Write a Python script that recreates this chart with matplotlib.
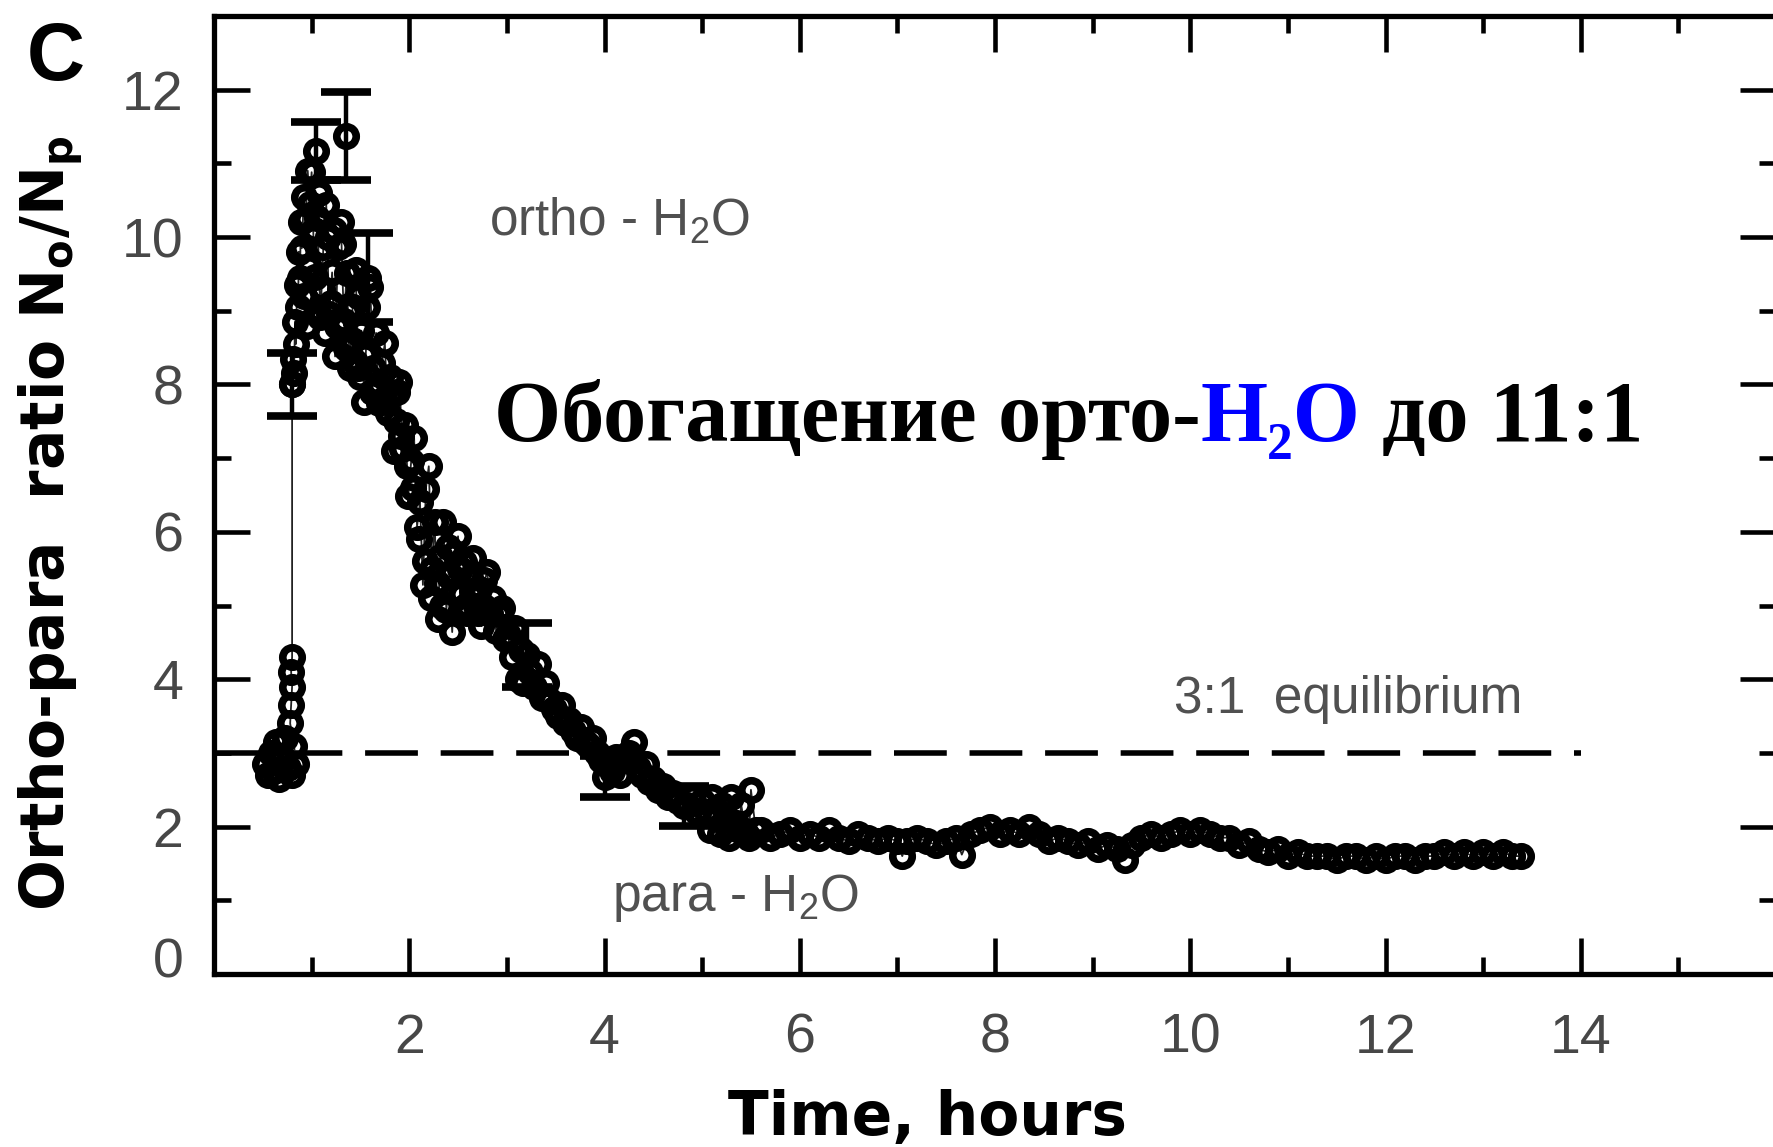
import matplotlib
matplotlib.use("Agg")
import matplotlib.pyplot as plt
from matplotlib import font_manager
from matplotlib.ticker import FixedLocator
from matplotlib.transforms import ScaledTranslation

# ---------------- data ----------------
t_rise = [0.52, 0.55, 0.58, 0.61, 0.64, 0.67, 0.70, 0.73, 0.76, 0.80, 0.84, 0.82,
          0.78, 0.79, 0.80, 0.79, 0.80]
r_rise = [2.85, 2.70, 3.00, 2.75, 3.15, 2.65, 2.95, 3.20, 2.80, 2.70, 2.85, 3.10,
          3.40, 3.65, 3.90, 4.10, 4.30]

t_jump = [0.80, 0.81, 0.82, 0.83, 0.84, 0.85, 0.86, 0.87, 0.88, 0.89, 0.90, 0.92,
          0.94, 0.96, 0.98]
r_jump = [8.00, 8.35, 8.15, 8.85, 8.55, 9.35, 9.05, 9.80, 9.45, 10.20, 9.85, 10.55,
          10.25, 10.90, 10.45]

t_decay = [1.00, 1.03, 1.06, 1.09, 1.12, 1.15, 1.18, 1.21, 1.24, 1.27,
           1.30, 1.33, 1.36, 1.39, 1.42, 1.45, 1.48, 1.51, 1.54, 1.57,
           1.60, 1.63, 1.66, 1.69, 1.72, 1.75, 1.78, 1.81, 1.84, 1.87,
           1.90, 1.93, 1.96, 1.99, 2.02, 2.05, 2.08, 2.11, 2.14, 2.17,
           2.20, 2.23, 2.26, 2.29, 2.32, 2.35, 2.38, 2.41, 2.44, 2.47,
           2.50, 2.53, 2.56, 2.59, 2.62, 2.65, 2.68, 2.71, 2.74, 2.77,
           2.80, 2.83, 2.86, 2.89, 2.92, 2.95, 2.98]
r_decay = [10.88, 9.46, 10.26, 8.91, 9.86, 10.43, 8.96, 9.52, 8.38, 9.87,
           10.20, 8.86, 9.51, 8.22, 9.05, 9.56, 8.22, 8.73, 7.76, 9.05,
           9.32, 8.23, 8.70, 7.75, 8.29, 8.56, 7.61, 7.86, 7.10, 7.90,
           8.04, 7.12, 7.45, 6.49, 6.96, 7.27, 6.07, 6.40, 5.28, 6.58,
           6.89, 5.49, 6.14, 4.82, 5.66, 6.13, 4.94, 5.40, 4.64, 5.71,
           5.94, 5.16, 5.59, 4.90, 5.38, 5.65, 4.99, 5.23, 4.72, 5.34,
           5.46, 4.88, 5.10, 4.66, 4.88, 4.97, 4.54]

# extra overlapping measurements inside the dense band
t_band = [0.92, 0.95, 0.97, 1.02, 1.05, 1.08, 1.11, 1.14, 1.17, 1.20,
          1.23, 1.26, 1.29, 1.32, 1.35, 1.38, 1.41, 1.44, 1.47, 1.50,
          1.55, 1.62, 1.68, 1.74, 1.80, 1.86, 1.92, 1.98, 2.04, 2.10,
          2.16, 2.22, 2.28, 2.34, 2.40, 2.46, 2.52, 2.58, 2.64, 2.70,
          2.76]
r_band = [9.20, 8.80, 9.60, 10.10, 9.00, 10.60, 9.30, 8.70, 10.00, 9.10,
          10.10, 8.80, 9.30, 9.90, 8.50, 9.00, 8.60, 8.30, 9.20, 8.10,
          8.40, 7.90, 8.00, 7.80, 8.10, 7.50, 7.30, 6.90, 6.60, 5.90,
          5.60, 5.10, 5.30, 5.00, 5.80, 5.20, 5.50, 5.00, 5.20, 4.90,
          5.00]

t_slope = [3.01, 3.05, 3.08, 3.11, 3.14, 3.17, 3.24, 3.28, 3.32, 3.36,
           3.40, 3.44, 3.48, 3.52, 3.56, 3.60, 3.64, 3.68, 3.72, 3.76,
           3.80, 3.84, 3.88, 3.92, 3.96, 4.04, 4.08, 4.12, 4.16, 4.20,
           4.25, 4.30, 4.34, 4.38, 4.42, 4.46, 4.50, 4.55, 4.60, 4.65,
           4.70, 4.75, 4.85, 4.90, 4.95, 5.00, 5.05, 5.08, 5.10, 5.15,
           5.18, 5.20, 5.25, 5.28, 5.30, 5.35, 5.38, 5.40, 5.45, 5.48,
           5.50, 5.55]
r_slope = [4.60, 4.30, 4.70, 4.00, 4.40, 3.95, 4.10, 3.90, 4.20, 3.75,
           3.95, 3.70, 3.60, 3.50, 3.65, 3.40, 3.45, 3.30, 3.20, 3.35,
           3.15, 3.10, 3.20, 3.00, 2.90, 2.85, 2.75, 2.95, 2.70, 2.90,
           3.00, 3.15, 2.80, 2.70, 2.85, 2.60, 2.65, 2.50, 2.55, 2.40,
           2.45, 2.35, 2.30, 2.40, 2.20, 2.35, 2.20, 1.95, 2.40, 2.15,
           1.90, 2.30, 2.00, 1.85, 2.40, 2.05, 1.95, 2.30, 1.90, 1.85,
           2.50, 1.95]

t_tail = [5.60, 5.70, 5.80, 5.90, 6.00, 6.10, 6.20, 6.30, 6.40, 6.50,
          6.60, 6.70, 6.80, 6.90, 7.00, 7.05, 7.10, 7.20, 7.30, 7.40,
          7.50, 7.60, 7.66, 7.75, 7.85, 7.95, 8.05, 8.15, 8.25, 8.35,
          8.45, 8.55, 8.65, 8.75, 8.85, 8.95, 9.05, 9.15, 9.25, 9.33,
          9.40, 9.50, 9.60, 9.70, 9.80, 9.90, 10.00, 10.10, 10.20, 10.30,
          10.40, 10.50, 10.60, 10.70, 10.80, 10.90, 11.00, 11.10, 11.20, 11.30,
          11.40, 11.50, 11.60, 11.70, 11.80, 11.90, 12.00, 12.10, 12.20, 12.30,
          12.40, 12.50, 12.60, 12.70, 12.80, 12.90, 13.00, 13.10, 13.20, 13.30,
          13.39]
r_tail = [1.95, 1.85, 1.90, 1.95, 1.85, 1.90, 1.85, 1.95, 1.85, 1.80,
          1.90, 1.85, 1.80, 1.85, 1.80, 1.60, 1.80, 1.85, 1.80, 1.75,
          1.80, 1.85, 1.62, 1.90, 1.95, 2.00, 1.90, 1.95, 1.90, 2.00,
          1.90, 1.80, 1.85, 1.80, 1.75, 1.80, 1.70, 1.75, 1.70, 1.55,
          1.75, 1.85, 1.90, 1.85, 1.90, 1.95, 1.90, 1.95, 1.90, 1.85,
          1.85, 1.75, 1.80, 1.70, 1.65, 1.70, 1.60, 1.65, 1.60, 1.60,
          1.60, 1.55, 1.60, 1.60, 1.55, 1.60, 1.55, 1.60, 1.60, 1.55,
          1.60, 1.60, 1.65, 1.60, 1.65, 1.60, 1.65, 1.60, 1.65, 1.60,
          1.60]

err_t = [0.80, 1.04, 1.35, 1.58, 3.21, 4.01, 4.81]
err_r = [8.00, 11.17, 11.37, 9.45, 4.33, 2.68, 2.28]
err_e = [0.43, 0.39, 0.60, 0.60, 0.43, 0.28, 0.27]

equilibrium_ratio = 3.0
equilibrium_span = [0, 14]

x_major = [2, 4, 6, 8, 10, 12, 14]
x_minor = [1, 3, 5, 7, 9, 11, 13, 15]
y_major = [0, 2, 4, 6, 8, 10, 12]
y_minor = [1, 3, 5, 7, 9, 11]

time_h = t_rise + t_jump + t_decay + t_slope + t_tail
ratio = r_rise + r_jump + r_decay + r_slope + r_tail

# ---------------- fonts ----------------
names = {f.name for f in font_manager.fontManager.ttflist}
sans = ['Liberation Sans Narrow', 'Liberation Sans', 'DejaVu Sans'] \
    if 'Liberation Sans Narrow' in names else ['Liberation Sans', 'DejaVu Sans']
plt.rcParams['font.family'] = ['Liberation Sans', 'DejaVu Sans']
plt.rcParams['mathtext.fontset'] = 'custom'
plt.rcParams['mathtext.rm'] = 'Liberation Sans'
plt.rcParams['mathtext.it'] = 'Liberation Sans:italic'
plt.rcParams['mathtext.bf'] = 'DejaVu Sans:bold'

W, H, DPI = 1773, 1147, 100
fig = plt.figure(figsize=(W / DPI, H / DPI), dpi=DPI)
fig.patch.set_facecolor('white')

ax_l, ax_r, ax_t, ax_b = 214, 1776, 16, 974
ax = fig.add_axes([ax_l / W, 1 - ax_b / H, (ax_r - ax_l) / W, (ax_b - ax_t) / H])
ax.set_xlim(0, 16)
ax.set_ylim(0, 13)

# reference line
ax.plot(equilibrium_span, [equilibrium_ratio] * 2, color='black', lw=4,
        linestyle=(0, (9.5, 4.1)), zorder=1, solid_capstyle='butt',
        dash_capstyle='butt')

# data
MS, MEW = 14, 5.5
ax.plot(time_h, ratio, '-', color='#222222', lw=1.3, zorder=2)
ax.plot(time_h, ratio, 'o', ms=MS, mfc='none', mec='black', mew=MEW, zorder=3)
ax.plot(t_band, r_band, 'o', ms=MS, mfc='none', mec='black', mew=MEW, zorder=3)
ax.errorbar(err_t, err_r, yerr=err_e, fmt='o', ms=MS, mfc='none', mec='black',
            mew=MEW, ecolor='black', elinewidth=3.2, capsize=18, capthick=3.2,
            zorder=4)

# spines & ticks
for s in ['left', 'top', 'bottom']:
    ax.spines[s].set_linewidth(3.8)
    ax.spines[s].set_color('black')
ax.spines['right'].set_visible(False)

ax.xaxis.set_major_locator(FixedLocator(x_major))
ax.xaxis.set_minor_locator(FixedLocator(x_minor))
ax.yaxis.set_major_locator(FixedLocator(y_major))
ax.yaxis.set_minor_locator(FixedLocator(y_minor))
ax.set_xticklabels([str(v) for v in x_major])
ax.set_yticklabels([str(v) for v in y_major])

ax.tick_params(which='major', direction='in', length=26, width=3.3, color='black',
               top=True, right=True, labelsize=40, labelcolor='#474747')
ax.tick_params(which='minor', direction='in', length=12.5, width=3.3,
               color='black', top=True, right=True)
ax.tick_params(axis='x', which='major', pad=28)
ax.tick_params(axis='y', which='major', pad=22)
for lab in ax.get_xticklabels() + ax.get_yticklabels():
    lab.set_fontfamily(sans)

# annotations
ax.text(2.82, 10.02, 'ortho - H$_2$O', fontsize=37, color='#505050',
        family=['Liberation Sans', 'DejaVu Sans'], va='baseline', ha='left')
ax.text(9.83, 3.54, '3:1  equilibrium', fontsize=37, color='#505050',
        family=['Liberation Sans', 'DejaVu Sans'], va='baseline', ha='left')
ax.text(4.08, 0.86, 'para - H$_2$O', fontsize=37, color='#505050',
        family=['Liberation Sans', 'DejaVu Sans'], va='baseline', ha='left')

fig.text(56 / W, 1 - 80 / H, 'C', fontsize=58, weight='bold',
         family=['Liberation Sans', 'DejaVu Sans'], ha='center', va='baseline')
fig.text(51 / W, 1 - 523 / H, r'Ortho-para  ratio $\mathbf{N_o/N_p}$',
         rotation=90, ha='center', va='center', fontsize=43, weight='bold',
         family=['DejaVu Sans'])
fig.text(927 / W, 1 - 1135 / H, 'Time, hours', ha='center', va='baseline',
         fontsize=43, weight='bold', family=['DejaVu Sans'])

# Russian caption with blue H2O
serif = ['Liberation Serif', 'DejaVu Serif']
tprops = dict(fontsize=62, weight='bold', family=serif, va='baseline', ha='left')
prefix = 'Обогащение орто-'
middle = 'H\u2082O'
suffix = 'до 11:1'
x0_px, yb_px = 494, 441
fig.canvas.draw()
renderer = fig.canvas.get_renderer()


def width_px(s):
    t = fig.text(0, 0, s, **tprops)
    w = t.get_window_extent(renderer).width
    t.remove()
    return w


mid_px = x0_px + width_px(prefix + 'H') - width_px('H')
suf_px = x0_px + width_px(prefix + middle + ' д') - width_px('д')
fig.text(x0_px / W, 1 - yb_px / H, prefix, color='black', **tprops)
fig.text(mid_px / W, 1 - yb_px / H, middle, color='#0000ff', **tprops)
fig.text(suf_px / W, 1 - yb_px / H, suffix, color='black', **tprops)

# the "0" label sits a little above its tick in the reference
fig.canvas.draw()
tick0 = ax.yaxis.get_major_ticks()[0]
tick0.label1.set_transform(tick0.label1.get_transform() +
                           ScaledTranslation(0, 0.17, fig.dpi_scale_trans))

fig.savefig('out.png', dpi=DPI, facecolor='white')
